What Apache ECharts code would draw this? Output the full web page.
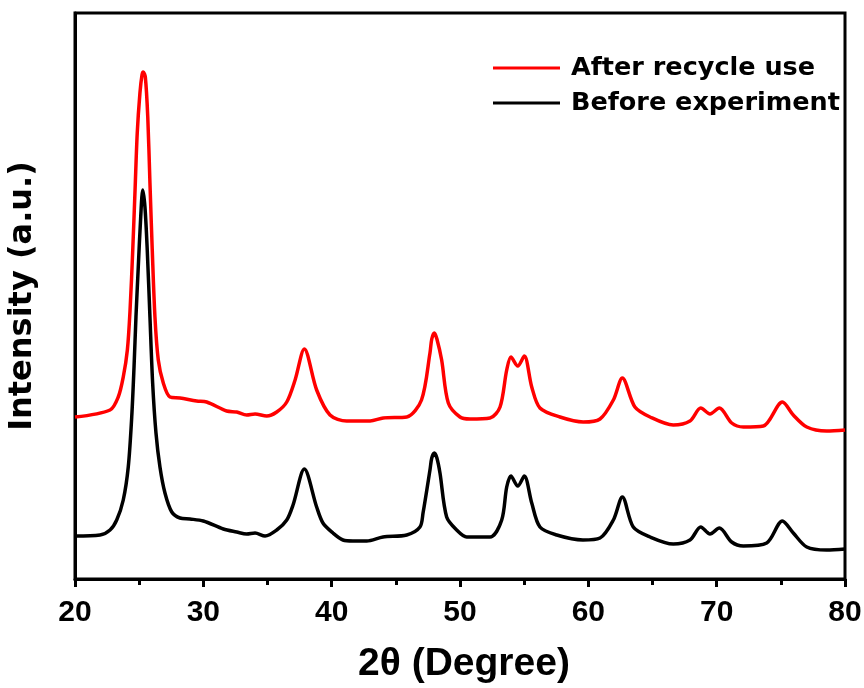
<!DOCTYPE html>
<html>
<head>
<meta charset="utf-8">
<script src="https://cdn.jsdelivr.net/npm/echarts@6/dist/echarts.min.js"></script>
<style>html,body{margin:0;padding:0;background:#fff;}#c{width:864px;height:688px;}</style>
</head>
<body>
<div id="c"></div>
<script>
// 2θ (degree) values and intensities (a.u.)
const beforeX = [20.0,21.95,22.73,23.25,23.76,24.15,24.42,24.6,24.75,24.93,25.12,25.28,25.45,25.63,25.84,26.05,26.31,26.62,27.01,27.54,28.18,28.96,30.0,31.56,32.6,33.38,34.03,34.81,35.72,36.5,36.99,37.87,38.83,39.32,40.10,40.88,41.66,42.73,44.0,45.85,46.88,47.12,47.66,47.8,48.0,48.2,48.44,48.96,49.74,50.52,52.34,53.25,53.64,53.97,54.5,55.01,55.59,56.23,57.54,59.58,60.91,61.95,62.65,63.5,64.81,66.62,67.92,68.76,69.48,70.21,71.17,72.08,73.9,75.12,75.97,77.02,78.57,80.0];
const beforeY = [43,44,49,59,79,112,162,212,262,312,362,389,372,329,262,196,146,112,86,67,61,60,58,50,47,45,46,43,49,59,74,110,72,56,46,39,38,38,42,44,52,66,109,121,126,121,106,62,49,42,42,59,92,103,93,103,76,52,44,39,41,59,82,52,42,35,39,52,45,51,37,33,36,58,46,32,29,30];
const afterX = [20.0,22.73,23.37,23.76,24.08,24.29,24.5,24.68,24.85,25.06,25.22,25.32,25.48,25.67,25.84,26.02,26.23,26.49,26.88,27.4,28.18,29.48,30.26,31.82,32.6,33.38,34.03,34.94,35.72,36.5,37.15,37.87,38.83,39.87,41.17,42.99,44.02,45.85,47.0,47.66,47.8,48.0,48.2,48.57,49.09,50.0,50.78,52.34,53.12,53.64,53.97,54.5,55.01,55.59,56.23,57.79,59.6,60.91,61.95,62.65,63.63,64.81,66.62,67.92,68.76,69.48,70.21,71.17,72.08,73.64,75.12,75.97,77.02,78.57,80.0];
const afterY = [162,169,182,202,229,269,329,389,446,486,504,507,502,462,396,329,262,219,196,182,181,178,177,168,167,164,165,163,167,177,199,230,189,164,158,158,161,162,179,226,240,246,240,219,176,162,160,161,172,209,222,213,223,192,171,162,157,160,179,201,172,162,154,158,171,165,171,156,152,153,177,164,152,148,149];
const xTicks = [20,30,40,50,60,70,80];
const seriesNames = ['After recycle use','Before experiment'];

const zip = (xs, ys) => xs.map((x, i) => [x, ys[i]]);
const chart = echarts.init(document.getElementById('c'), null, {renderer: 'canvas'});
const arial = 'Liberation Sans, Arial, sans-serif';
const wide = 'DejaVu Sans, sans-serif';
chart.setOption({
  animation: false,
  backgroundColor: '#fff',
  grid: {left: 75, right: 19, top: 13, bottom: 109, outerBoundsMode: 'none', containLabel: false,
         show: true, borderColor: '#000', borderWidth: 3, backgroundColor: 'transparent'},
  legend: {
    orient: 'vertical', left: 493, top: 53, padding: 0, itemGap: 5, itemWidth: 67, itemHeight: 3,
    icon: 'rect',
    data: seriesNames,
    textStyle: {fontFamily: wide, fontWeight: 'bold', fontSize: 25.5, lineHeight: 30, color: '#000', padding: [0,0,0,6]}
  },
  xAxis: {
    type: 'value', min: xTicks[0], max: xTicks[xTicks.length-1], interval: 10,
    name: '2θ (Degree)', nameLocation: 'middle', nameGap: 66,
    nameTextStyle: {fontFamily: arial, fontWeight: 'bold', fontSize: 39, color: '#000', padding: [0,0,0,8]},
    axisLine: {show: true, lineStyle: {color: '#000', width: 3}},
    axisTick: {show: true, inside: false, length: 8, lineStyle: {color: '#000', width: 3}},
    minorTick: {show: true, splitNumber: 2, length: 6, lineStyle: {color: '#000', width: 3}},
    axisLabel: {fontFamily: arial, fontWeight: 'bold', fontSize: 30, color: '#000', margin: 19},
    splitLine: {show: false}
  },
  yAxis: {
    type: 'value', min: 0, max: 566,
    name: 'Intensity (a.u.)', nameLocation: 'middle', nameGap: 36,
    nameTextStyle: {fontFamily: wide, fontWeight: 'bold', fontSize: 32, color: '#000'},
    axisLine: {show: true, lineStyle: {color: '#000', width: 3}},
    axisTick: {show: false}, axisLabel: {show: false}, splitLine: {show: false}
  },
  series: [
    {name: seriesNames[0], type: 'line', data: zip(afterX, afterY), symbol: 'none', smooth: 0.3, color: '#ff0000', lineStyle: {width: 3.5, color: '#ff0000'}},
    {name: seriesNames[1], type: 'line', data: zip(beforeX, beforeY), symbol: 'none', smooth: 0.3, color: '#000000', lineStyle: {width: 3.5, color: '#000000'}}
  ]
});
</script>
</body>
</html>
